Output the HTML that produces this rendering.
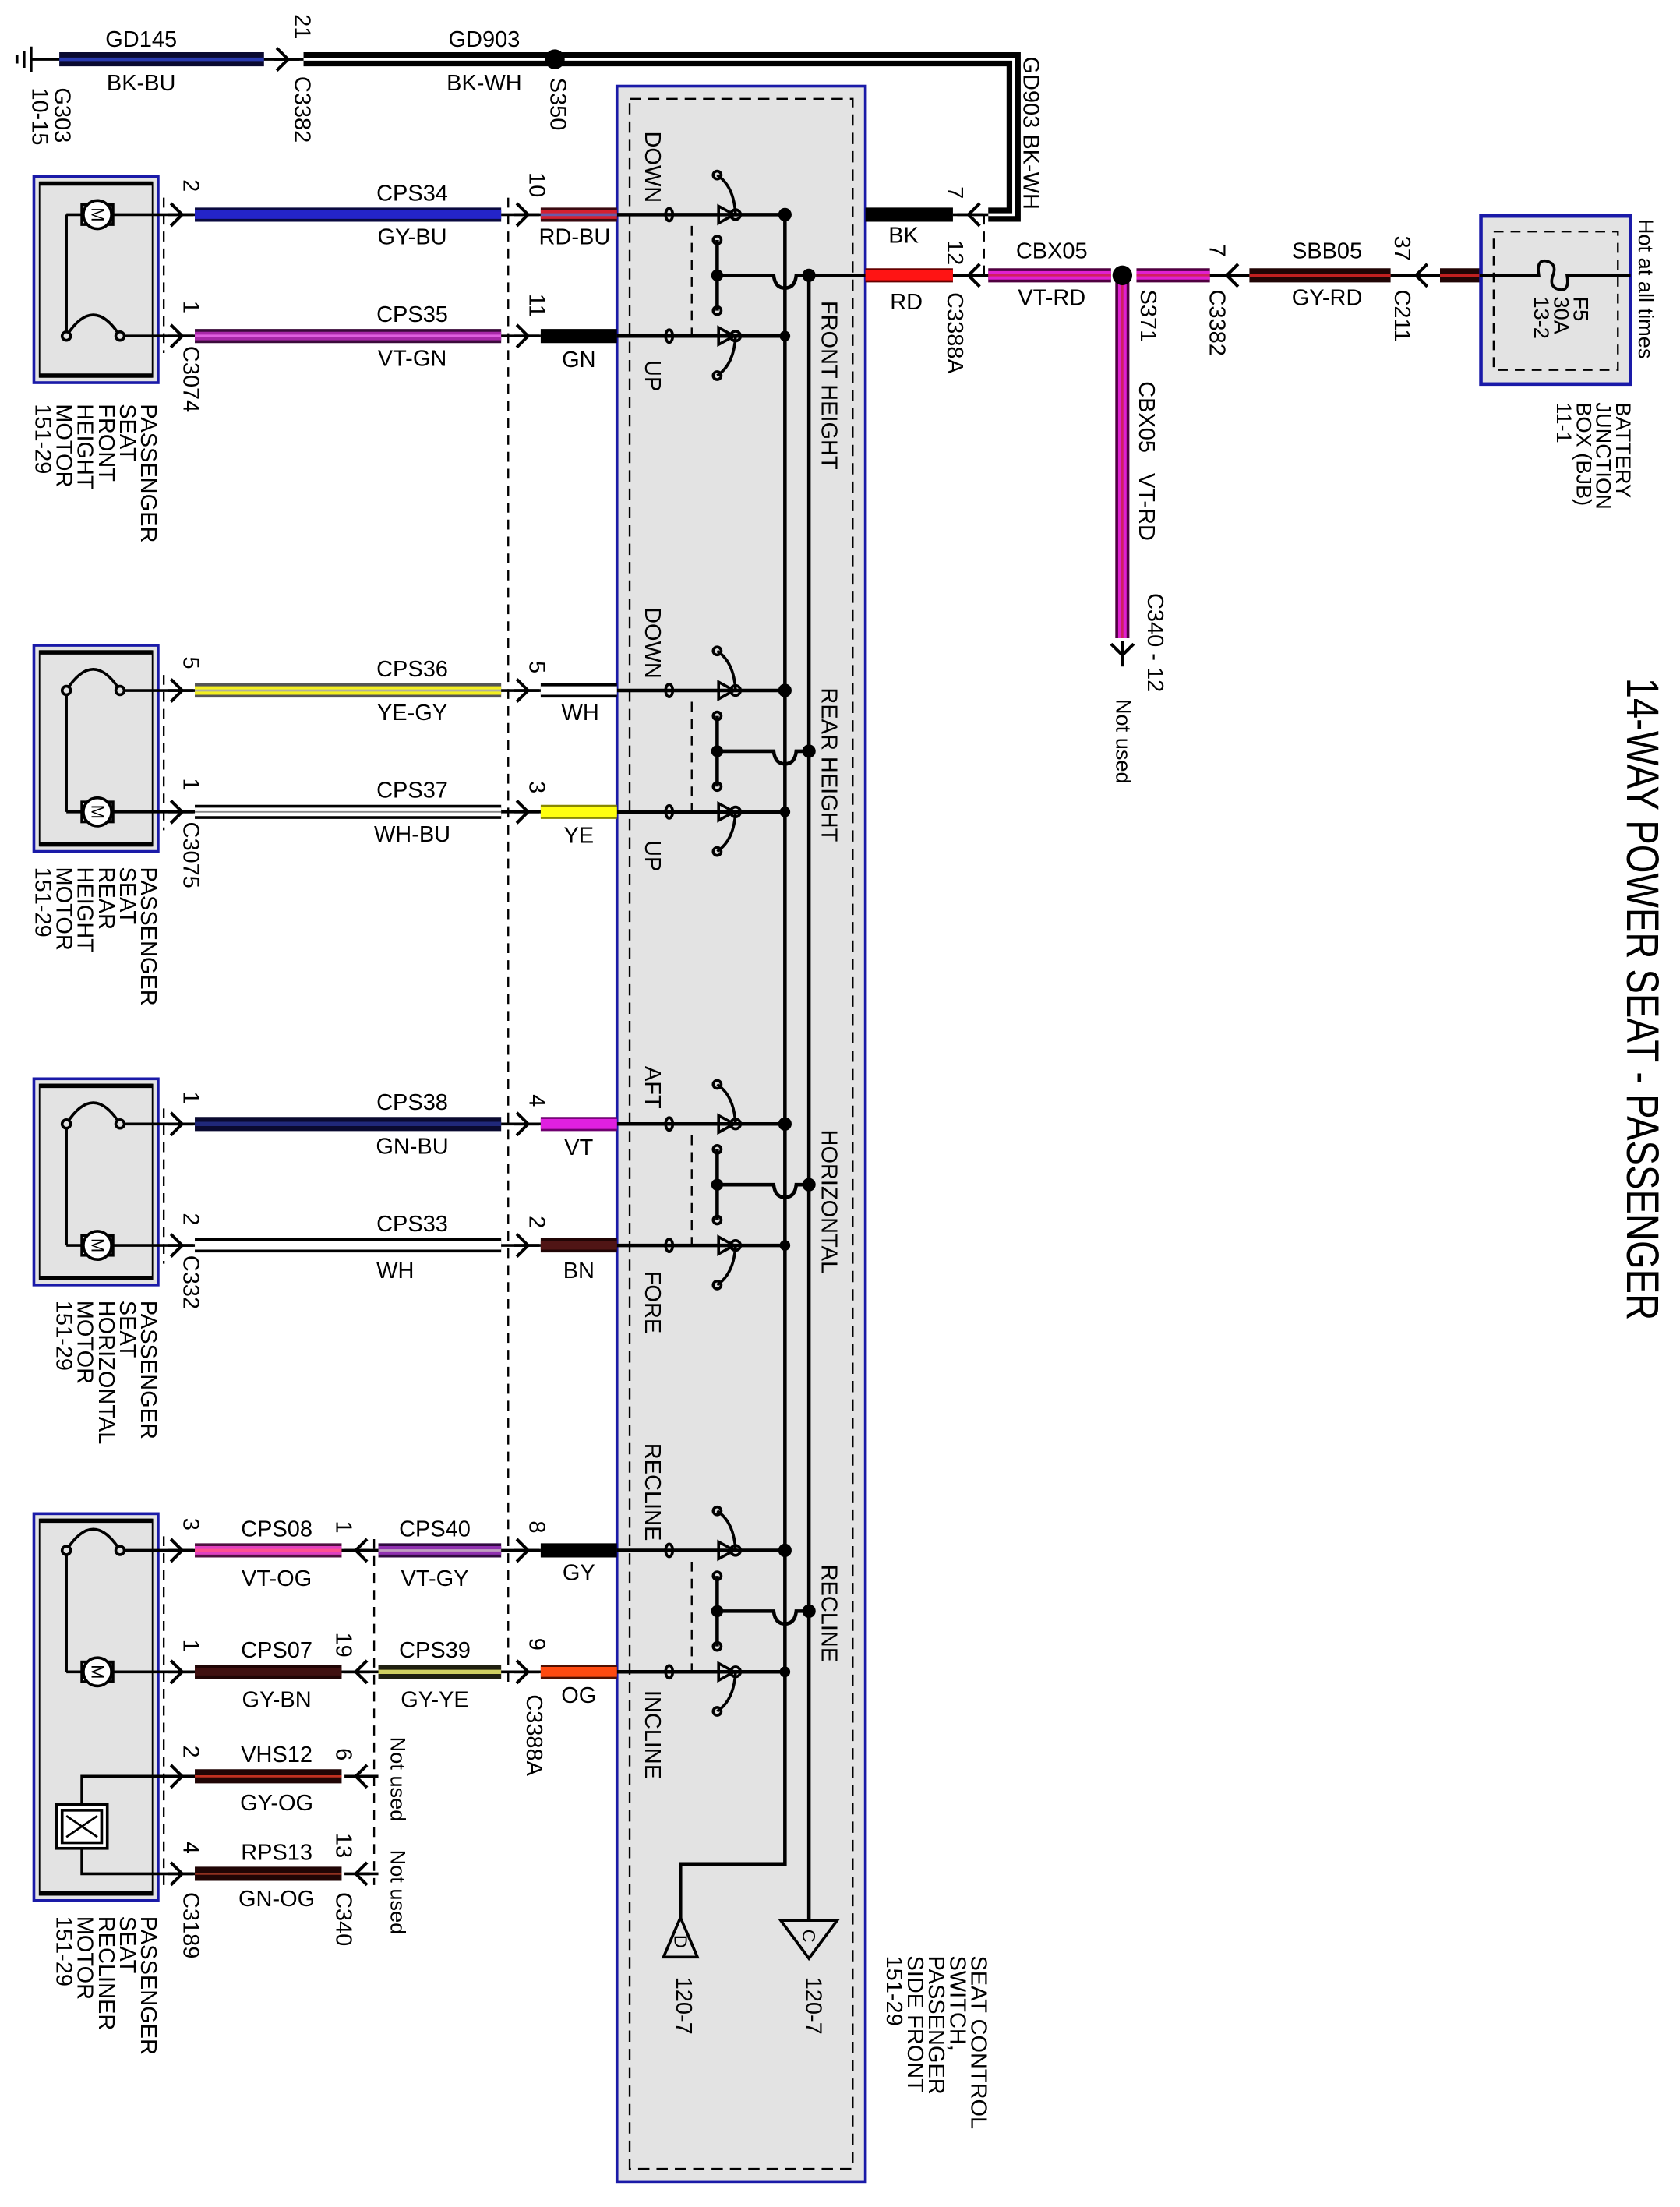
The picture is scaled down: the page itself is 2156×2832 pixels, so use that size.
<!DOCTYPE html>
<html><head><meta charset="utf-8"><style>
html,body{margin:0;padding:0;background:#fff}
svg{display:block}
text{font-family:"Liberation Sans",Arial,sans-serif;fill:#000}
</style></head><body>
<svg width="2156" height="2832" viewBox="0 0 1190 1563" preserveAspectRatio="none" xmlns="http://www.w3.org/2000/svg">
<defs>
<g id="ar"><path d="M-6 -8 L2 0 L-6 8" fill="none" stroke="#000" stroke-width="2.2"/><path d="M-8 0 H10" stroke="#000" stroke-width="2"/></g>
<g id="sw" fill="none" stroke="#000" stroke-width="2.5">
<path d="M437 0 H556 M437 86 H556"/>
<ellipse cx="474" cy="0" rx="2.5" ry="4.5" stroke-width="2"/>
<ellipse cx="474" cy="86" rx="2.5" ry="4.5" stroke-width="2"/>
<path d="M509 -6 L509 6 L520 0 Z M509 80 L509 92 L520 86 Z" stroke-width="2"/>
<circle cx="521" cy="0" r="3.5" stroke-width="2"/><circle cx="521" cy="86" r="3.5" stroke-width="2"/>
<path d="M521 0 Q520 -20 508 -28 M521 86 Q520 106 508 114" stroke-width="2"/>
<circle cx="508" cy="-28" r="2.8" stroke-width="2"/><circle cx="508" cy="114" r="2.8" stroke-width="2"/>
<path d="M508 18 V68" stroke-width="2.5"/>
<circle cx="508" cy="18" r="2.8" stroke-width="2"/><circle cx="508" cy="68" r="2.8" stroke-width="2"/>
<path d="M508 43 H548 Q549 52 556 52 Q563 52 564 43 H573" stroke-width="2.5"/>
<circle cx="508" cy="43" r="3" fill="#000"/>
<circle cx="573" cy="43" r="3.5" fill="#000"/>
<circle cx="556" cy="0" r="3.5" fill="#000"/><circle cx="556" cy="86" r="2.5" fill="#000"/>
<path d="M490 8 V86" stroke-width="1.3" stroke-dasharray="7 5"/>
</g>
<g id="arc" fill="none" stroke="#000" stroke-width="2"><path d="M47 0 Q66 -30 85 0"/><circle cx="47" cy="0" r="3" fill="#e3e3e3"/><circle cx="85" cy="0" r="3" fill="#e3e3e3"/><path d="M88 0 H116"/></g>
<g id="mot" stroke="#000" stroke-width="2"><path d="M47 0 H116" fill="none"/><rect x="58" y="-7" width="22" height="14" fill="#fff"/><circle cx="69" cy="0" r="10" fill="#fff"/><text x="69" y="0" font-size="12" text-anchor="middle" dominant-baseline="central" transform="rotate(90 69 0)" stroke="none">M</text></g>
</defs>

<!-- switch box -->
<rect x="437" y="61" width="176" height="1484" fill="#e3e3e3" stroke="#1a1aa8" stroke-width="2"/>
<rect x="446" y="70" width="158" height="1466" fill="none" stroke="#000" stroke-width="1.3" stroke-dasharray="8 5"/>

<!-- motor boxes -->
<g fill="#e3e3e3" stroke="#1a1aa8" stroke-width="2">
<rect x="24" y="125" width="88" height="146"/>
<rect x="24" y="457" width="88" height="146"/>
<rect x="24" y="764" width="88" height="146"/>
<rect x="24" y="1072" width="88" height="274"/>
</g>
<g fill="none" stroke="#000">
<rect x="28" y="129" width="80" height="138" stroke-width="1"/>
<rect x="28" y="461" width="80" height="138" stroke-width="1"/>
<rect x="28" y="768" width="80" height="138" stroke-width="1"/>
<rect x="28" y="1076" width="80" height="266" stroke-width="1"/>
<path d="M28 130 H108 M28 266 H108 M28 462 H108 M28 598 H108 M28 769 H108 M28 905 H108 M28 1077 H108 M28 1341 H108" stroke-width="3"/>
</g>
<!-- dashed connector lines -->
<g stroke="#000" stroke-width="1.3" stroke-dasharray="7 5" fill="none">
<path d="M116 140 V250 M116 478 V588 M116 785 V895 M116 1088 V1335"/>
<path d="M360 140 V1195"/>
<path d="M265 1090 V1335"/>
<path d="M697 152 V200"/>
</g>

<!-- motor internals -->
<path d="M47 152 V238 M47 489 V575 M47 796 V882 M47 1098 V1184" stroke="#000" stroke-width="2" fill="none"/>
<use href="#mot" transform="translate(0,152)"/>
<use href="#arc" transform="translate(0,238)"/>
<use href="#arc" transform="translate(0,489)"/>
<use href="#mot" transform="translate(0,575)"/>
<use href="#arc" transform="translate(0,796)"/>
<use href="#mot" transform="translate(0,882)"/>
<use href="#arc" transform="translate(0,1098)"/>
<use href="#mot" transform="translate(0,1184)"/>
<g stroke="#000" stroke-width="2" fill="none">
<path d="M116 1258 H58 V1278 M58 1309 V1327 H116"/>
<rect x="40" y="1278" width="36" height="31" fill="#fff"/>
<rect x="44" y="1282" width="28" height="23"/>
<path d="M47 1286 L69 1301 M69 1286 L47 1301" stroke-width="1.5"/>
</g>

<!-- switches -->
<use href="#sw" transform="translate(0,152)"/>
<use href="#sw" transform="translate(0,489)"/>
<use href="#sw" transform="translate(0,796)"/>
<use href="#sw" transform="translate(0,1098)"/>
<g stroke="#000" stroke-width="2.5" fill="none">
<path d="M556 152 V1320 H482 V1360"/>
<path d="M573 195 V1360"/>
<path d="M613 195 H573"/>
<path d="M482 1358 L470 1386 H494 Z" stroke-width="2"/>
<path d="M553 1360 H593 L573 1387 Z" stroke-width="2"/>
</g>
<text x="482" y="1375" font-size="13" dominant-baseline="central" text-anchor="middle" transform="rotate(90 482 1375)">D</text>
<text x="573" y="1371" font-size="13" dominant-baseline="central" text-anchor="middle" transform="rotate(90 573 1371)">C</text>

<!-- wires: function-like groups -->
<g stroke-linecap="butt">
<!-- top ground wire -->
<path d="M42 42 H187" stroke="#0a0a30" stroke-width="10"/><path d="M42 42 H187" stroke="#2a3ab0" stroke-width="2.5"/>
<path d="M215 42 H392" stroke="#000" stroke-width="10"/><path d="M215 42 H392" stroke="#fff" stroke-width="2"/>
<path d="M392 42 H718 V152 H700" stroke="#000" stroke-width="10" fill="none"/><path d="M392 42 H718 V152 H700" stroke="#fff" stroke-width="2" fill="none"/>
<!-- row wires left -->
<path d="M138 152 H355" stroke="#0a0a40" stroke-width="10"/><path d="M138 152 H355" stroke="#2424c8" stroke-width="6"/>
<path d="M383 152 H437" stroke="#3a0a10" stroke-width="10"/><path d="M383 152 H437" stroke="#d42030" stroke-width="6"/><path d="M383 152 H437" stroke="#6a5aa8" stroke-width="2"/>
<path d="M138 238 H355" stroke="#3a0a3a" stroke-width="10"/><path d="M138 238 H355" stroke="#a828a8" stroke-width="6"/><path d="M138 238 H355" stroke="#e060e0" stroke-width="2"/>
<path d="M383 238 H437" stroke="#000" stroke-width="10"/>
<path d="M138 489 H355" stroke="#555" stroke-width="10"/><path d="M138 489 H355" stroke="#f4f020" stroke-width="6"/><path d="M138 489 H355" stroke="#b0b0a0" stroke-width="1.5"/>
<path d="M383 489 H437" stroke="#000" stroke-width="10"/><path d="M383 489 H437" stroke="#fff" stroke-width="6"/>
<path d="M138 575 H355" stroke="#000" stroke-width="10"/><path d="M138 575 H355" stroke="#fff" stroke-width="6"/><path d="M138 575 H355" stroke="#888" stroke-width="1"/>
<path d="M383 575 H437" stroke="#888800" stroke-width="10"/><path d="M383 575 H437" stroke="#ffff10" stroke-width="7"/>
<path d="M138 796 H355" stroke="#0a0a30" stroke-width="10"/><path d="M138 796 H355" stroke="#20287a" stroke-width="3"/>
<path d="M383 796 H437" stroke="#700070" stroke-width="10"/><path d="M383 796 H437" stroke="#e020e0" stroke-width="7"/>
<path d="M138 882 H355" stroke="#000" stroke-width="10"/><path d="M138 882 H355" stroke="#fff" stroke-width="6"/>
<path d="M383 882 H437" stroke="#200505" stroke-width="10"/><path d="M383 882 H437" stroke="#501515" stroke-width="6"/>
<path d="M138 1098 H242" stroke="#501040" stroke-width="10"/><path d="M138 1098 H242" stroke="#e040c0" stroke-width="6"/><path d="M138 1098 H242" stroke="#ff5090" stroke-width="2"/>
<path d="M268 1098 H355" stroke="#300a40" stroke-width="10"/><path d="M268 1098 H355" stroke="#9030b0" stroke-width="6"/><path d="M268 1098 H355" stroke="#c0a0c0" stroke-width="1.5"/>
<path d="M383 1098 H437" stroke="#000" stroke-width="10"/>
<path d="M138 1184 H242" stroke="#200505" stroke-width="10"/><path d="M138 1184 H242" stroke="#401010" stroke-width="5"/>
<path d="M268 1184 H355" stroke="#202010" stroke-width="10"/><path d="M268 1184 H355" stroke="#d0d060" stroke-width="3"/>
<path d="M383 1184 H437" stroke="#501000" stroke-width="10"/><path d="M383 1184 H437" stroke="#ff4a10" stroke-width="7"/>
<path d="M138 1258 H242" stroke="#200505" stroke-width="10"/><path d="M138 1258 H242" stroke="#c03020" stroke-width="1.5"/>
<path d="M138 1327 H242" stroke="#200505" stroke-width="10"/><path d="M138 1327 H242" stroke="#903020" stroke-width="1.5"/>
<path d="M255 1258 H268 M255 1327 H268" stroke="#000" stroke-width="2"/>
<!-- right side -->
<path d="M613 152 H675" stroke="#000" stroke-width="10"/>
<path d="M613 195 H675" stroke="#600" stroke-width="10"/><path d="M613 195 H675" stroke="#ff1414" stroke-width="7"/>
<path d="M700 195 H787" stroke="#500040" stroke-width="10"/><path d="M700 195 H787" stroke="#e020d0" stroke-width="6"/><path d="M700 195 H787" stroke="#d02060" stroke-width="1.5"/>
<path d="M805 195 H857" stroke="#500040" stroke-width="10"/><path d="M805 195 H857" stroke="#e020d0" stroke-width="6"/><path d="M805 195 H857" stroke="#d02060" stroke-width="1.5"/>
<path d="M795 200 V452" stroke="#500040" stroke-width="10"/><path d="M795 200 V452" stroke="#e020d0" stroke-width="6"/><path d="M795 200 V452" stroke="#d02060" stroke-width="1.5"/>
<path d="M885 195 H985" stroke="#200505" stroke-width="10"/><path d="M885 195 H985" stroke="#c02020" stroke-width="2"/>
<path d="M1020 195 H1048" stroke="#200505" stroke-width="10"/><path d="M1020 195 H1048" stroke="#c02020" stroke-width="2"/>
</g>
<!-- connector short stubs -->
<g stroke="#000" stroke-width="2" fill="none">
<path d="M116 152 H138 M116 238 H138 M116 489 H138 M116 575 H138 M116 796 H138 M116 882 H138 M116 1098 H138 M116 1184 H138 M116 1258 H138 M116 1327 H138"/>
<path d="M355 152 H383 M355 238 H383 M355 489 H383 M355 575 H383 M355 796 H383 M355 882 H383 M355 1098 H383 M355 1184 H383"/>
<path d="M242 1098 H268 M242 1184 H268"/>
<path d="M187 42 H215 M675 152 H700 M675 195 H700 M857 195 H885 M985 195 H1020"/>
<path d="M22 42 H42 M22 33 V51 M17 36 V48 M12 39 V45"/>
</g>
<!-- arrows -->
<use href="#ar" transform="translate(127,152)"/><use href="#ar" transform="translate(127,238)"/>
<use href="#ar" transform="translate(127,489)"/><use href="#ar" transform="translate(127,575)"/>
<use href="#ar" transform="translate(127,796)"/><use href="#ar" transform="translate(127,882)"/>
<use href="#ar" transform="translate(127,1098)"/><use href="#ar" transform="translate(127,1184)"/>
<use href="#ar" transform="translate(127,1258)"/><use href="#ar" transform="translate(127,1327)"/>
<use href="#ar" transform="translate(372,152)"/><use href="#ar" transform="translate(372,238)"/>
<use href="#ar" transform="translate(372,489)"/><use href="#ar" transform="translate(372,575)"/>
<use href="#ar" transform="translate(372,796)"/><use href="#ar" transform="translate(372,882)"/>
<use href="#ar" transform="translate(372,1098)"/><use href="#ar" transform="translate(372,1184)"/>
<use href="#ar" transform="translate(254,1098) scale(-1,1)"/><use href="#ar" transform="translate(254,1184) scale(-1,1)"/>
<use href="#ar" transform="translate(254,1258) scale(-1,1)"/><use href="#ar" transform="translate(254,1327) scale(-1,1)"/>
<use href="#ar" transform="translate(202,42)"/>
<use href="#ar" transform="translate(688,152) scale(-1,1)"/><use href="#ar" transform="translate(688,195) scale(-1,1)"/>
<use href="#ar" transform="translate(871,195) scale(-1,1)"/><use href="#ar" transform="translate(1005,195) scale(-1,1)"/>
<use href="#ar" transform="translate(795,462) rotate(90)"/>
<circle cx="393" cy="42" r="7" fill="#000"/>
<circle cx="795" cy="195" r="7" fill="#000"/>

<!-- BJB -->
<rect x="1049" y="153" width="106" height="119" fill="#e3e3e3" stroke="#1a1aa8" stroke-width="2.5"/>
<rect x="1058" y="164" width="88" height="98" fill="none" stroke="#000" stroke-width="1.3" stroke-dasharray="7 5"/>
<path d="M1048 195 H1090 Q1088 183 1096 185 Q1103 187 1100 195 Q1097 203 1104 205 Q1112 207 1110 195 H1155" fill="none" stroke="#000" stroke-width="2"/>

<!-- horizontal labels -->
<g font-size="16" text-anchor="middle">
<text x="100" y="33">GD145</text><text x="100" y="64">BK-BU</text>
<text x="343" y="33">GD903</text><text x="343" y="64">BK-WH</text>
<text x="292" y="142">CPS34</text><text x="292" y="173">GY-BU</text><text x="407" y="173">RD-BU</text>
<text x="292" y="228">CPS35</text><text x="292" y="259">VT-GN</text><text x="410" y="260">GN</text>
<text x="292" y="479">CPS36</text><text x="292" y="510">YE-GY</text><text x="411" y="510">WH</text>
<text x="292" y="565">CPS37</text><text x="292" y="596">WH-BU</text><text x="410" y="597">YE</text>
<text x="292" y="786">CPS38</text><text x="292" y="817">GN-BU</text><text x="410" y="818">VT</text>
<text x="292" y="872">CPS33</text><text x="280" y="905">WH</text><text x="410" y="905">BN</text>
<text x="196" y="1088">CPS08</text><text x="196" y="1123">VT-OG</text>
<text x="308" y="1088">CPS40</text><text x="308" y="1123">VT-GY</text><text x="410" y="1119">GY</text>
<text x="196" y="1174">CPS07</text><text x="196" y="1209">GY-BN</text>
<text x="308" y="1174">CPS39</text><text x="308" y="1209">GY-YE</text><text x="410" y="1206">OG</text>
<text x="196" y="1248">VHS12</text><text x="196" y="1282">GY-OG</text>
<text x="196" y="1317">RPS13</text><text x="196" y="1350">GN-OG</text>
<text x="640" y="172">BK</text><text x="642" y="219">RD</text>
<text x="745" y="183">CBX05</text><text x="745" y="216">VT-RD</text>
<text x="940" y="183">SBB05</text><text x="940" y="216">GY-RD</text>
</g>

<!-- rotated labels -->
<g font-size="16" dominant-baseline="central">
<text transform="translate(135,127) rotate(90)">2</text>
<text transform="translate(135,213) rotate(90)">1</text>
<text transform="translate(135,465) rotate(90)">5</text>
<text transform="translate(135,551) rotate(90)">1</text>
<text transform="translate(135,773) rotate(90)">1</text>
<text transform="translate(135,859) rotate(90)">2</text>
<text transform="translate(135,1075) rotate(90)">3</text>
<text transform="translate(135,1161) rotate(90)">1</text>
<text transform="translate(135,1236) rotate(90)">2</text>
<text transform="translate(135,1304) rotate(90)">4</text>
<text transform="translate(380,122) rotate(90)">10</text>
<text transform="translate(380,208) rotate(90)">11</text>
<text transform="translate(380,468) rotate(90)">5</text>
<text transform="translate(380,553) rotate(90)">3</text>
<text transform="translate(380,775) rotate(90)">4</text>
<text transform="translate(380,861) rotate(90)">2</text>
<text transform="translate(380,1077) rotate(90)">8</text>
<text transform="translate(380,1160) rotate(90)">9</text>
<text transform="translate(243,1077) rotate(90)">1</text>
<text transform="translate(243,1156) rotate(90)">19</text>
<text transform="translate(243,1238) rotate(90)">6</text>
<text transform="translate(243,1298) rotate(90)">13</text>
<text transform="translate(135,245) rotate(90)">C3074</text>
<text transform="translate(135,582) rotate(90)">C3075</text>
<text transform="translate(135,889) rotate(90)">C332</text>
<text transform="translate(135,1340) rotate(90)">C3189</text>
<text transform="translate(243,1340) rotate(90)">C340</text>
<text transform="translate(378,1200) rotate(90)">C3388A</text>
<text transform="translate(282,1230) rotate(90)" font-size="15">Not used</text>
<text transform="translate(282,1310) rotate(90)" font-size="15">Not used</text>
<text transform="translate(214,10) rotate(90)">21</text>
<text transform="translate(214,54) rotate(90)">C3382</text>
<text transform="translate(44,62) rotate(90)">G303</text>
<text transform="translate(28,62) rotate(90)">10-15</text>
<text transform="translate(395,55) rotate(90)">S350</text>
<text transform="translate(730,40) rotate(90)">GD903  BK-WH</text>
<text transform="translate(676,132) rotate(90)">7</text>
<text transform="translate(676,170) rotate(90)">12</text>
<text transform="translate(676,207) rotate(90)">C3388A</text>
<text transform="translate(813,205) rotate(90)">S371</text>
<text transform="translate(812,270) rotate(90)">CBX05</text>
<text transform="translate(812,335) rotate(90)">VT-RD</text>
<text transform="translate(818,420) rotate(90)">C340 - 12</text>
<text transform="translate(796,495) rotate(90)" font-size="15">Not used</text>
<text transform="translate(862,173) rotate(90)">7</text>
<text transform="translate(862,205) rotate(90)">C3382</text>
<text transform="translate(993,167) rotate(90)">37</text>
<text transform="translate(993,205) rotate(90)">C211</text>
<text transform="translate(1166,155) rotate(90)" font-size="15">Hot at all times</text>
<text transform="translate(1120,210) rotate(90)" font-size="15">F5</text>
<text transform="translate(1106,210) rotate(90)" font-size="15">30A</text>
<text transform="translate(1092,210) rotate(90)" font-size="15">13-2</text>
<text transform="translate(1150,285) rotate(90)" font-size="15">BATTERY</text>
<text transform="translate(1136,285) rotate(90)" font-size="15">JUNCTION</text>
<text transform="translate(1122,285) rotate(90)" font-size="15">BOX (BJB)</text>
<text transform="translate(1108,285) rotate(90)" font-size="15">11-1</text>
<!-- switch labels -->
<text transform="translate(462,93) rotate(90)">DOWN</text>
<text transform="translate(462,255) rotate(90)">UP</text>
<text transform="translate(587,213) rotate(90)">FRONT HEIGHT</text>
<text transform="translate(462,430) rotate(90)">DOWN</text>
<text transform="translate(462,595) rotate(90)">UP</text>
<text transform="translate(587,487) rotate(90)">REAR HEIGHT</text>
<text transform="translate(462,755) rotate(90)">AFT</text>
<text transform="translate(462,900) rotate(90)">FORE</text>
<text transform="translate(587,800) rotate(90)">HORIZONTAL</text>
<text transform="translate(462,1022) rotate(90)">RECLINE</text>
<text transform="translate(462,1197) rotate(90)">INCLINE</text>
<text transform="translate(587,1108) rotate(90)">RECLINE</text>
<text transform="translate(484,1400) rotate(90)">120-7</text>
<text transform="translate(576,1400) rotate(90)">120-7</text>
<text transform="translate(693,1385) rotate(90)">SEAT CONTROL</text>
<text transform="translate(678,1385) rotate(90)">SWITCH,</text>
<text transform="translate(663,1385) rotate(90)">PASSENGER</text>
<text transform="translate(648,1385) rotate(90)">SIDE FRONT</text>
<text transform="translate(633,1385) rotate(90)">151-29</text>
</g>
<!-- motor labels -->
<g font-size="16" dominant-baseline="central">
<text transform="translate(105,286) rotate(90)">PASSENGER</text>
<text transform="translate(90,286) rotate(90)">SEAT</text>
<text transform="translate(75,286) rotate(90)">FRONT</text>
<text transform="translate(60,286) rotate(90)">HEIGHT</text>
<text transform="translate(45,286) rotate(90)">MOTOR</text>
<text transform="translate(30,286) rotate(90)">151-29</text>
<text transform="translate(105,614) rotate(90)">PASSENGER</text>
<text transform="translate(90,614) rotate(90)">SEAT</text>
<text transform="translate(75,614) rotate(90)">REAR</text>
<text transform="translate(60,614) rotate(90)">HEIGHT</text>
<text transform="translate(45,614) rotate(90)">MOTOR</text>
<text transform="translate(30,614) rotate(90)">151-29</text>
<text transform="translate(105,921) rotate(90)">PASSENGER</text>
<text transform="translate(90,921) rotate(90)">SEAT</text>
<text transform="translate(75,921) rotate(90)">HORIZONTAL</text>
<text transform="translate(60,921) rotate(90)">MOTOR</text>
<text transform="translate(45,921) rotate(90)">151-29</text>
<text transform="translate(105,1357) rotate(90)">PASSENGER</text>
<text transform="translate(90,1357) rotate(90)">SEAT</text>
<text transform="translate(75,1357) rotate(90)">RECLINER</text>
<text transform="translate(60,1357) rotate(90)">MOTOR</text>
<text transform="translate(45,1357) rotate(90)">151-29</text>
</g>
<!-- title -->
<text transform="translate(1163,480) rotate(90)" font-size="32" dominant-baseline="central" textLength="455" lengthAdjust="spacingAndGlyphs">14-WAY POWER SEAT - PASSENGER</text>
</svg>
</body></html>
